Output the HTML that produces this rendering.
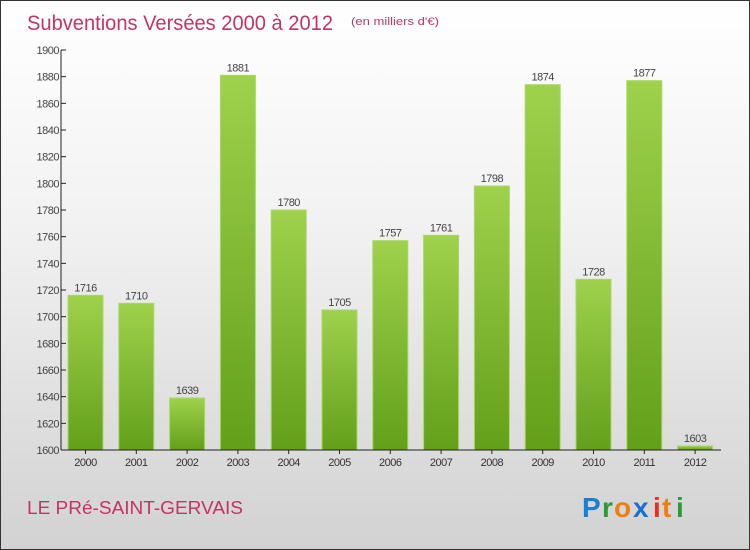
<!DOCTYPE html>
<html><head><meta charset="utf-8"><style>
body{margin:0;width:750px;height:550px;overflow:hidden;font-family:"Liberation Sans",sans-serif}
#wrap{position:absolute;left:0;top:0;width:748px;height:548px;border:1px solid #333;background:linear-gradient(#ffffff,#f2f2f2 40%,#d2d2d2)}
</style></head><body>
<div id="wrap">
<svg width="750" height="550" style="position:absolute;left:-1px;top:-1px" id="svg">
<defs><linearGradient id="bg" x1="0" y1="0" x2="0" y2="1"><stop offset="0" stop-color="#9fd14c"/><stop offset="1" stop-color="#63a01a"/></linearGradient></defs>
<text x="27" y="30" font-size="21" fill="#c43366" textLength="306" lengthAdjust="spacingAndGlyphs">Subventions Versées 2000 à 2012</text>
<text x="351" y="25" font-size="11" fill="#c43366" textLength="88" lengthAdjust="spacingAndGlyphs">(en milliers d'€)</text>
<text x="27" y="514" font-size="18" fill="#c43366" textLength="216" lengthAdjust="spacingAndGlyphs">LE PRé-SAINT-GERVAIS</text>
<g font-size="28" font-weight="bold" font-family="Liberation Sans,sans-serif">
<text x="582" y="517" fill="#1a7fd4">P</text><text x="602" y="517" fill="#2a9a3a">r</text><text x="614" y="517" fill="#f07d10">o</text><text x="633" y="517" fill="#1a6fd0">x</text><text x="653" y="517" fill="#e83020">i</text><text x="662" y="517" fill="#f07d10">t</text><text x="676" y="517" fill="#2a9a3a">i</text></g>
<g id="plot"></g>
</svg></div>
<script>
const years=["2000","2001","2002","2003","2004","2005","2006","2007","2008","2009","2010","2011","2012"];
const values=[1716,1710,1639,1881,1780,1705,1757,1761,1798,1874,1728,1877,1603];
const yTicks=[1600,1620,1640,1660,1680,1700,1720,1740,1760,1780,1800,1820,1840,1860,1880,1900];
const yMin=1600,yMax=1900,plotTop=50,plotBot=450;
const y=v=>plotBot-(v-yMin)/(yMax-yMin)*(plotBot-plotTop);
const xc=i=>85.5+i*50.8;
const NS="http://www.w3.org/2000/svg",g=document.getElementById('plot');
function mk(t,a,txt){const e=document.createElementNS(NS,t);for(const k in a)e.setAttribute(k,a[k]);if(txt!=null)e.textContent=txt;g.appendChild(e);return e;}
yTicks.forEach(v=>{
const l=mk('line',{x1:61,x2:66,y1:y(v),y2:y(v),stroke:'#222'});


const t=mk('text',{x:59,y:y(v)+4,'text-anchor':'end','font-size':11,fill:'#444','letter-spacing':'-0.5'},v);


});
values.forEach((v,i)=>{
const r=mk('rect',{x:xc(i)-17.5,y:y(v),width:35,height:plotBot-y(v),fill:'url(#bg)',stroke:'#a9d865','stroke-width':1});


const t=mk('text',{x:xc(i),y:y(v)-4,'text-anchor':'middle','font-size':11,fill:'#444','letter-spacing':'-0.5'},v);


const xl=mk('text',{x:xc(i),y:466,'text-anchor':'middle','font-size':11,fill:'#333','letter-spacing':'-0.5'},years[i]);


const xt=mk('line',{x1:xc(i),x2:xc(i),y1:450,y2:454,stroke:'#222'});


});
const ya=mk('line',{x1:61,x2:61,y1:50,y2:450,stroke:'#222'});


const xa=mk('line',{x1:61,x2:721,y1:450,y2:450,stroke:'#222'});


</script>
</body></html>
